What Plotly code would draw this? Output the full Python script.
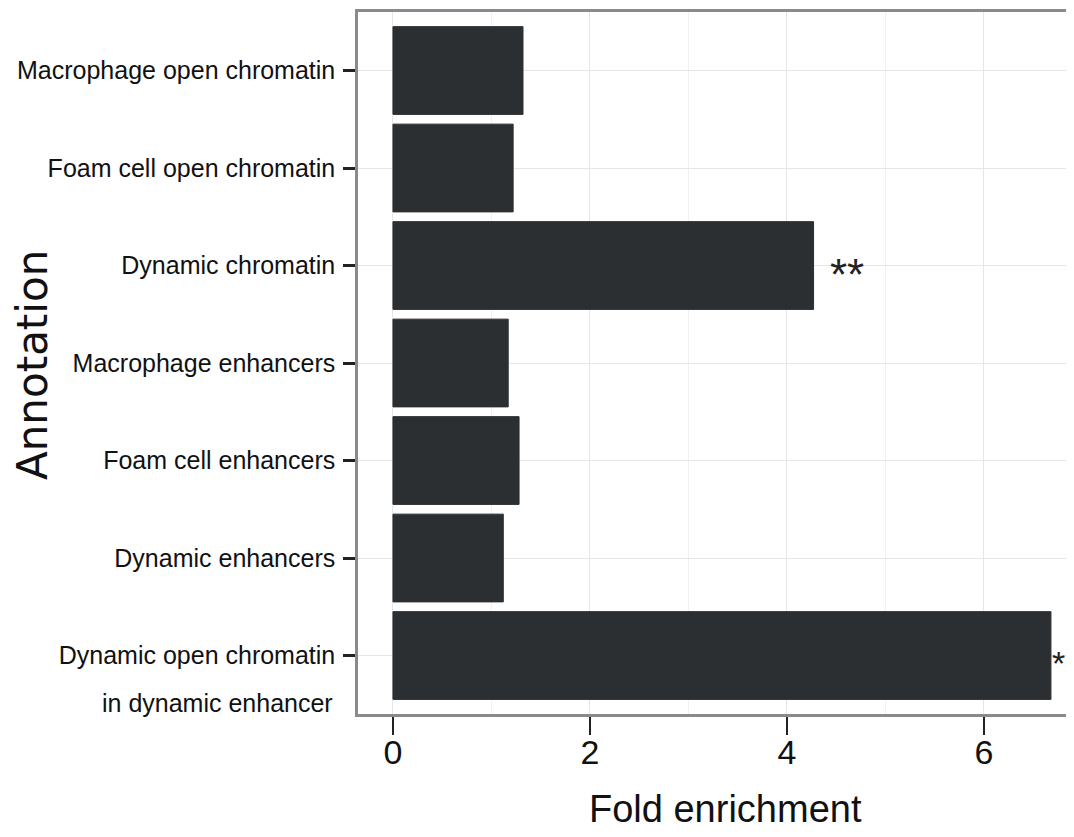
import plotly.graph_objects as go

categories = [
    "Macrophage open chromatin",
    "Foam cell open chromatin",
    "Dynamic chromatin",
    "Macrophage enhancers",
    "Foam cell enhancers",
    "Dynamic enhancers",
    "Dynamic open chromatin<br>in dynamic enhancer",
]
fold_enrichment = [1.32, 1.22, 4.27, 1.17, 1.28, 1.12, 6.68]
significance = ["", "", "**", "", "", "", "*"]
x_ticks = [0, 2, 4, 6]

OFF = 8  # page body offset
W, H = 1074 - 2 * OFF, 837 - 2 * OFF
ml, mr, mt, mb = 358 - OFF, 0, 12 - OFF, 837 - 714 - OFF
PX_PER_UNIT = 98.5
x_min = -0.355
x_max = (W - ml) / PX_PER_UNIT + x_min

font_main = "Liberation Sans, Arial, sans-serif"

first_lines = [c.split("<br>")[0] for c in categories]

fig = go.Figure()
fig.add_trace(go.Bar(
    x=fold_enrichment, y=categories, orientation="h",
    marker=dict(color="#2c2f32", line=dict(color="#2c2f32", width=1)),
    width=0.9, showlegend=False,
))

annotations = []
# significance stars
for cat, val, sig in zip(categories, fold_enrichment, significance):
    if not sig:
        continue
    if val + 0.15 + 0.3 * len(sig) > x_max:
        annotations.append(dict(
            x=x_max, y=cat, xref="x", yref="y",
            text=sig, showarrow=False, xanchor="right", yanchor="middle",
            xshift=1, yshift=-7, font=dict(family=font_main, size=34, color="#222"),
        ))
    else:
        annotations.append(dict(
            x=val + 0.15, y=cat, xref="x", yref="y",
            text=sig, showarrow=False, xanchor="left", yanchor="middle",
            yshift=-9, font=dict(family=font_main, size=44, color="#222"),
        ))
# second lines of wrapped tick labels
for cat in categories:
    parts = cat.split("<br>")
    if len(parts) > 1:
        annotations.append(dict(
            x=0, y=cat, xref="paper", yref="y",
            text=parts[1], showarrow=False, xanchor="right", yanchor="middle",
            xshift=-23, yshift=-47,
            font=dict(family=font_main, size=25, color="#111"),
        ))

plot_h = H - mt - mb
plot_w = W - ml - mr
annotations += [
    dict(text="Fold enrichment", xref="paper", yref="paper",
         x=(725 - OFF - ml) / plot_w, y=-(809 - OFF - (H - mb)) / plot_h,
         showarrow=False, xanchor="center", yanchor="middle",
         font=dict(family=font_main, size=38, color="#111")),
    dict(text="Annotation", xref="paper", yref="paper",
         x=-(ml - (32 - OFF)) / plot_w, y=(H - mb - (365 - OFF)) / plot_h,
         showarrow=False, xanchor="center", yanchor="middle", textangle=-90,
         font=dict(family="DejaVu Sans, Verdana, sans-serif", size=42, color="#111")),
]

fig.update_layout(
    width=W, height=H,
    margin=dict(l=ml, r=mr, t=mt, b=mb, autoexpand=False),
    paper_bgcolor="white", plot_bgcolor="white",
    xaxis=dict(
        range=[x_min, x_max],
        tickvals=x_ticks, ticktext=[str(t) for t in x_ticks],
        showgrid=True, gridcolor="#e6e6e6", gridwidth=1.2,
        minor=dict(dtick=1, tick0=0, showgrid=True, gridcolor="#f1f1f1", gridwidth=1),
        showline=True, linecolor="#8a8a8a", linewidth=2.5, mirror=True,
        ticks="outside", ticklen=18, tickwidth=2, tickcolor="#222",
        tickfont=dict(family=font_main, size=34, color="#111"),
        ticklabelstandoff=-12,
        zeroline=False, fixedrange=True, automargin=False,
    ),
    yaxis=dict(
        categoryorder="array", categoryarray=categories[::-1],
        tickvals=categories, ticktext=first_lines,
        range=[-0.6, 6.6],
        showgrid=True, gridcolor="#e6e6e6", gridwidth=1.2,
        showline=True, linecolor="#8a8a8a", linewidth=2.5, mirror=False,
        ticks="outside", ticklen=12, tickwidth=2.5, tickcolor="#222",
        tickfont=dict(family=font_main, size=25, color="#111"),
        ticklabelstandoff=3,
        zeroline=False, fixedrange=True, automargin=False,
    ),
    annotations=annotations,
)

fig.write_html("out.html")
